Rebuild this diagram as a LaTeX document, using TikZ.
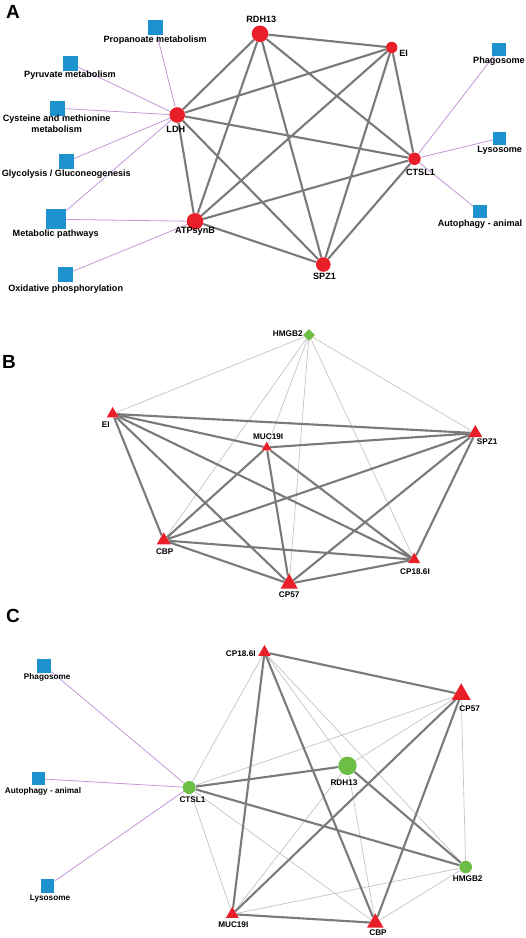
\documentclass[tikz,border=0pt]{standalone}
\usepackage{fontspec}
\setsansfont{Liberation Sans}
\usetikzlibrary{shapes.geometric,backgrounds}
\definecolor{genered}{RGB}{232,30,40}
\definecolor{pathblue}{RGB}{28,146,206}
\definecolor{hubgreen}{RGB}{108,190,70}
\definecolor{strongray}{RGB}{122,122,122}
\definecolor{weakgray}{RGB}{196,196,196}
\definecolor{keggviolet}{RGB}{196,150,216}
\tikzset{
    gene-dot/.style = {circle, fill=genered, inner sep=0pt, minimum size=#1},
    gene-dot/.default = 14pt,
    hub-dot/.style = {circle, fill=hubgreen, inner sep=0pt, minimum size=#1},
    hub-dot/.default = 13pt,
    gene-tri/.style = {regular polygon, regular polygon sides=3, fill=genered, inner sep=0pt, minimum size=#1},
    gene-tri/.default = 14pt,
    hub-gem/.style = {diamond, fill=hubgreen, inner sep=0pt, minimum size=12pt},
    path-box/.style = {rectangle, fill=pathblue, inner sep=0pt, minimum size=#1},
    path-box/.default = 15pt,
    tag-a/.style = {font=\fontsize{9.1}{11}\selectfont\sffamily\bfseries, inner sep=0pt},
    tag-bc/.style = {font=\fontsize{8.2}{10}\selectfont\sffamily\bfseries, inner sep=0pt},
    panel-tag/.style = {font=\fontsize{19}{19}\selectfont\sffamily\bfseries, inner sep=0pt, anchor=base west},
    strong-link/.style = {draw=strongray, line width=2.1pt},
    weak-link/.style = {draw=weakgray, line width=0.7pt},
    kegg-link/.style = {draw=keggviolet, line width=0.8pt},
}

\begin{document}
\begin{tikzpicture}[x=1pt, y=-1pt]
\useasboundingbox (0,0) rectangle (526,938);

% panel tags
\node[panel-tag] (tag-a) at (6,18) {A};
\node[panel-tag] (tag-b) at (2,368) {B};
\node[panel-tag] (tag-c) at (6,622.5) {C};

% A
\begin{scope}[every label/.style={tag-a}]
\node[path-box=15pt, label={[label distance=1pt]below:Propanoate metabolism}] (a-prop) at (155.2,27.5) {};
\node[path-box=15pt, label={[label distance=0.3pt]below:Pyruvate metabolism}] (a-pyr) at (70,63.2) {};
\node[path-box=15pt, label={[label distance=-0.7pt, xshift=-1pt, align=center]below:Cysteine and methionine\\metabolism}] (a-cys) at (57.7,108.2) {};
\node[path-box=15pt, label={[label distance=0.7pt]below:Glycolysis / Gluconeogenesis}] (a-gly) at (66.3,161.8) {};
\node[path-box=20pt, label={[label distance=0pt, xshift=-0.5pt]below:Metabolic pathways}] (a-met) at (56.2,219.3) {};
\node[path-box=15pt, label={[label distance=2.3pt]below:Oxidative phosphorylation}] (a-oxi) at (65.7,274.2) {};
\node[path-box=13.5pt, label={[label distance=0.7pt]below:Phagosome}] (a-pha) at (499,49.3) {};
\node[path-box=13.5pt, label={[label distance=0.7pt]below:Lysosome}] (a-lys) at (499.7,138.3) {};
\node[path-box=13.5pt, label={[label distance=0.7pt]below:Autophagy - animal}] (a-aut) at (480,211.7) {};
\node[gene-dot=16.6pt, label={[label distance=2.8pt, xshift=1.3pt]above:RDH13}] (a-rdh) at (260,33.8) {};
\node[gene-dot=11.4pt, label={[label distance=1.5pt, yshift=-6.2pt]right:EI}] (a-ei) at (391.7,47.5) {};
\node[gene-dot=15.6pt, label={[label distance=3pt, xshift=-1.4pt]below:LDH}] (a-ldh) at (177.2,115) {};
\node[gene-dot=12.4pt, label={[label distance=3.3pt, xshift=6pt]below:CTSL1}] (a-cts) at (414.5,158.8) {};
\node[gene-dot=16.6pt, label={[label distance=-2.6pt]below:ATPsynB}] (a-atp) at (195,221.3) {};
\node[gene-dot=14.6pt, label={[label distance=1pt, xshift=1.2pt]below:SPZ1}] (a-spz) at (323.3,264.5) {};
\end{scope}

% B
\begin{scope}[every label/.style={tag-bc}]
\node[hub-gem, label={[label distance=0pt, yshift=1pt]left:HMGB2}] (b-hmg) at (309,335) {};
\node[gene-tri=13.9pt, label={[label distance=4.3pt, xshift=-6.9pt]below:EI}] (b-ei) at (112.7,413.9) {};
\node[gene-tri=11.5pt, label={[label distance=1.7pt, xshift=1.5pt]above:MUC19I}] (b-muc) at (266.7,447.5) {};
\node[gene-tri=16.2pt, label={[anchor=north west, label distance=1.5pt, xshift=1.4pt]below:SPZ1}] (b-spz) at (475.3,433.1) {};
\node[gene-tri=16.2pt, label={[label distance=3.8pt, xshift=1pt]below:CBP}] (b-cbp) at (163.7,540.4) {};
\node[gene-tri=20pt, label={[label distance=2.7pt]below:CP57}] (b-cp57) at (289.2,583.7) {};
\node[gene-tri=13.9pt, label={[label distance=5pt, xshift=0.8pt]below:CP18.6I}] (b-cp18) at (414.2,559.6) {};
\end{scope}

% C
\begin{scope}[every label/.style={tag-bc}]
\node[gene-tri=14.4pt, label={[label distance=4.3pt, yshift=-1pt]left:CP18.6I}] (c-cp18) at (264.5,652.2) {};
\node[gene-tri=21.9pt, label={[label distance=5.2pt, xshift=8.5pt]below:CP57}] (c-cp57) at (461.2,694.3) {};
\node[hub-dot=18.4pt, label={[label distance=4pt, xshift=-3.5pt]below:RDH13}] (c-rdh) at (347.5,765.8) {};
\node[hub-dot=13pt, label={[label distance=2.7pt, xshift=3.3pt]below:CTSL1}] (c-cts) at (189.2,787.5) {};
\node[hub-dot=12.6pt, label={[label distance=1.7pt, xshift=2pt]below:HMGB2}] (c-hmg) at (465.7,867) {};
\node[gene-tri=15pt, label={[label distance=3.8pt, xshift=1pt]below:MUC19I}] (c-muc) at (232.3,914.2) {};
\node[gene-tri=19pt, label={[label distance=1.7pt, xshift=2.7pt]below:CBP}] (c-cbp) at (375.3,922.8) {};
\node[path-box=13.7pt, label={[label distance=1pt, xshift=3pt]below:Phagosome}] (c-pha) at (44.2,665.7) {};
\node[path-box=13.3pt, label={[label distance=1.7pt, xshift=4.7pt]below:Autophagy - animal}] (c-aut) at (38.3,778.7) {};
\node[path-box=13.3pt, label={[label distance=1.6pt, xshift=2.3pt]below:Lysosome}] (c-lys) at (47.7,886) {};
\end{scope}

% links, under the nodes
\begin{scope}[on background layer]
\draw[kegg-link] (a-ldh) -- (a-prop) (a-ldh) -- (a-pyr) (a-ldh) -- (a-cys) (a-ldh) -- (a-gly) (a-ldh) -- (a-met)
    (a-atp) -- (a-met) (a-atp) -- (a-oxi)
    (a-cts) -- (a-pha) (a-cts) -- (a-lys) (a-cts) -- (a-aut);
\draw[strong-link] (a-rdh) -- (a-ei) (a-rdh) -- (a-ldh) (a-rdh) -- (a-cts) (a-rdh) -- (a-atp) (a-rdh) -- (a-spz)
    (a-ei) -- (a-ldh) (a-ei) -- (a-cts) (a-ei) -- (a-atp) (a-ei) -- (a-spz)
    (a-ldh) -- (a-cts) (a-ldh) -- (a-atp) (a-ldh) -- (a-spz)
    (a-cts) -- (a-atp) (a-cts) -- (a-spz)
    (a-atp) -- (a-spz);

\draw[weak-link] (b-hmg) -- (b-ei) (b-hmg) -- (b-muc) (b-hmg) -- (b-spz) (b-hmg) -- (b-cbp) (b-hmg) -- (b-cp57) (b-hmg) -- (b-cp18);
\draw[strong-link] (b-ei) -- (b-muc) (b-ei) -- (b-spz) (b-ei) -- (b-cbp) (b-ei) -- (b-cp57) (b-ei) -- (b-cp18)
    (b-muc) -- (b-spz) (b-muc) -- (b-cbp) (b-muc) -- (b-cp57) (b-muc) -- (b-cp18)
    (b-spz) -- (b-cbp) (b-spz) -- (b-cp57) (b-spz) -- (b-cp18)
    (b-cbp) -- (b-cp57) (b-cbp) -- (b-cp18)
    (b-cp57) -- (b-cp18);

\draw[kegg-link] (c-cts) -- (c-pha) (c-cts) -- (c-aut) (c-cts) -- (c-lys);
\draw[weak-link] (c-cp18) -- (c-cts) (c-cp18) -- (c-rdh) (c-cp18) -- (c-hmg)
    (c-cp57) -- (c-cts) (c-cp57) -- (c-rdh) (c-cp57) -- (c-hmg)
    (c-muc) -- (c-cts) (c-muc) -- (c-rdh) (c-muc) -- (c-hmg)
    (c-cbp) -- (c-cts) (c-cbp) -- (c-rdh) (c-cbp) -- (c-hmg);
\draw[strong-link] (c-cp18) -- (c-cp57) (c-cp18) -- (c-muc) (c-cp18) -- (c-cbp)
    (c-cp57) -- (c-muc) (c-cp57) -- (c-cbp) (c-muc) -- (c-cbp)
    (c-cts) -- (c-rdh) (c-cts) -- (c-hmg) (c-rdh) -- (c-hmg);
\end{scope}
\end{tikzpicture}
\end{document}
